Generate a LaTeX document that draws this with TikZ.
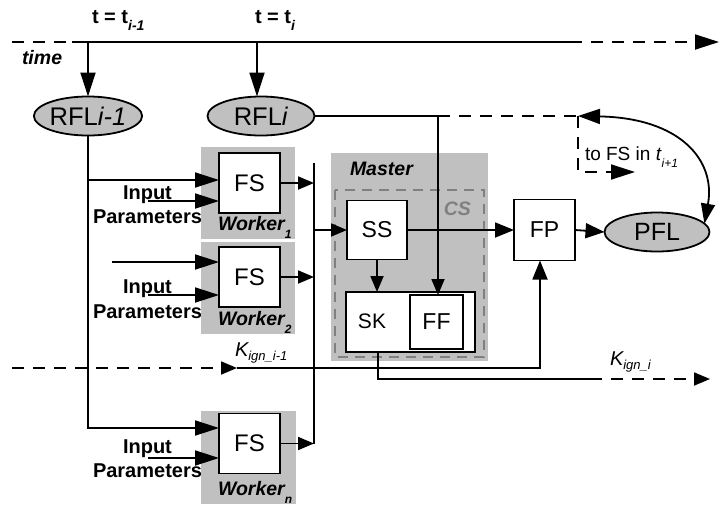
\documentclass[tikz,border=0pt]{standalone}
\usepackage{fontspec}
\setmainfont{Liberation Sans}
\usetikzlibrary{arrows.meta,shapes.geometric}
\definecolor{boxgray}{RGB}{192,192,192}
\definecolor{csgray}{RGB}{128,128,128}
\newcommand{\sbx}[3]{\raisebox{-#1pt}{\fontsize{#2}{#2}\selectfont #3}}
\begin{document}
\begin{tikzpicture}[x=1pt,y=-1pt,
  line width=1.8pt,
  every node/.style={inner sep=0pt, outer sep=0pt},
  ellnode/.style={ellipse, draw, fill=boxgray, minimum width=107pt, minimum height=39pt, font=\fontsize{25.5}{27}\selectfont},
  procbox/.style={draw, fill=white, minimum width=61pt, minimum height=60pt, font=\fontsize{23}{26}\selectfont},
  lbl/.style={font=\fontsize{20}{24}\selectfont\bfseries, anchor=base west},
  wlbl/.style={font=\fontsize{19.5}{24}\selectfont\bfseries\itshape, anchor=base west},
  bigtip/.style={-{Triangle[length=24pt,width=15pt]}},
  midtip/.style={-{Triangle[length=19pt,width=15pt]}},
  smalltip/.style={-{Triangle[length=16pt,width=13pt]}},
  dashline/.style={dash pattern=on 12pt off 9pt},
]
\useasboundingbox (0,0) rectangle (720,504);

% gray backgrounds
\fill[boxgray] (201,147) rectangle (295,239);
\fill[boxgray] (201,242) rectangle (295,334);
\fill[boxgray] (201,411) rectangle (296,504);
\fill[boxgray] (331,153) rectangle (488,361);
\draw[csgray, line width=1.3pt, dash pattern=on 10pt off 7pt] (335,190) rectangle (484,357);

% labels
\node[lbl] (t1) at (92,23) {t = t\sbx{7}{14}{\itshape i-1}};
\node[lbl] (t2) at (255,23) {t = t\sbx{7}{14}{\itshape i}};
\node[wlbl] (time) at (22,64) {time};
\node[wlbl] (master) at (350,175) {Master};
\node[wlbl, text=csgray, anchor=base east] (cs) at (471,215) {CS};

% ellipses
\node[ellnode] (rfla) at (88,116) {RFL\textit{i-1}};
\node[ellnode] (rflb) at (261,116) {RFL\textit{i}};
\node[ellnode, minimum width=105pt, font=\fontsize{25}{27}\selectfont] (pfl) at (657,232) {PFL};

% workers
\node[procbox, font=\fontsize{24}{26}\selectfont] (fs1) at (249.5,183) {FS};
\node[procbox, font=\fontsize{24}{26}\selectfont] (fs2) at (249.5,277) {FS};
\node[procbox, font=\fontsize{24}{26}\selectfont] (fsn) at (249.5,443.5) {FS};
\node[wlbl] (w1) at (218,230) {Worker\sbx{8}{12}{1}};
\node[wlbl] (w2) at (218,325) {Worker\sbx{8}{12}{2}};
\node[wlbl] (wn) at (218,495) {Worker\sbx{8}{12}{n}};

\node[lbl] (in1) at (123,199) {Input};
\node[lbl] (pa1) at (93,223) {Parameters};
\node[lbl] (in2) at (123,293) {Input};
\node[lbl] (pa2) at (93,318) {Parameters};
\node[lbl] (inn) at (123,453) {Input};
\node[lbl] (pan) at (93,477) {Parameters};

% master
\node[procbox, minimum width=60pt, minimum height=59pt] (ss) at (377,230) {SS};
\node[draw, fill=white, minimum width=129pt, minimum height=60pt, anchor=north west] (sk) at (346,292) {};
\node[font=\fontsize{21}{24}\selectfont] (sktext) at (372,321) {SK};
\node[procbox, minimum width=53pt, minimum height=54pt] (ff) at (436.5,322) {FF};
\node[procbox, minimum width=61pt, minimum height=61pt] (fp) at (544.5,230) {FP};

% time line
\coordinate (tl0) at (12,42);
\coordinate (tl1) at (72,42);
\coordinate (tl2) at (570,42);
\coordinate (tl3) at (719,42);
\draw[dashline] (tl0) -- (tl1);
\draw (tl1) -- (tl2);
\draw[dashline, bigtip] (tl2) -- (tl3);
\coordinate (ta) at (88,42);
\coordinate (tb) at (257,42);
\draw[bigtip] (ta) -- (rfla.north);
\draw[bigtip] (tb) -- (tb |- rflb.north);

% left feed
\coordinate (la) at (88,180);
\coordinate (lb) at (88,428);
\draw[bigtip] (rfla.south) -- (lb) -- (lb -| fsn.west);
\draw[bigtip] (la) -- (la -| fs1.west);
\coordinate (ib1) at (148,201);
\draw[bigtip] (ib1) -- (ib1 -| fs1.west);
\coordinate (ia2) at (112,262);
\draw[bigtip] (ia2) -- (ia2 -| fs2.west);
\coordinate (ib2) at (148,295);
\draw[bigtip] (ib2) -- (ib2 -| fs2.west);
\coordinate (ibn) at (148,458);
\draw[bigtip] (ibn) -- (ibn -| fsn.west);

% bus
\coordinate (bus1) at (314,163);
\coordinate (bus2) at (314,443.5);
\draw (bus1) -- (bus2);
\draw[smalltip] (fs1.east) -- (fs1.east -| bus1);
\draw[smalltip] (fs2.east) -- (fs2.east -| bus1);
\draw[smalltip] (fsn.east) -- (fsn.east -| bus1);
\draw[smalltip] (ss.west -| bus1) -- (ss.west);

% master internals
\draw[smalltip] (ss.south) -- (ss.south |- sk.north);
\coordinate (rj) at (438,116);
\draw (rflb.east) -- (rj);
\draw[smalltip] (rj) -- (rj |- ff.north);
\draw[midtip] (ss.east) -- (fp.west);
\draw[midtip] (fp.east) -- (pfl.west);

% feedback
\coordinate (dj) at (578,116);
\coordinate (dk) at (578,172);
\coordinate (dm) at (635,172);
\draw[dashline] (rj) -- (dj);
\draw[dashline, bigtip] (dj) -- (dk) -- (dm);
\draw[{Triangle[length=22pt,width=15pt]}-{Triangle[length=20pt,width=14pt]}] (dj) .. controls (680,118) and (716,160) .. (pfl.10);
\node[anchor=base west, font=\fontsize{19}{22}\selectfont] (tofs) at (585,160) {to FS in \textit{t}\sbx{7}{12}{\itshape i+1}};

% K ign lines
\coordinate (ka) at (12,368);
\coordinate (kb) at (237,368);
\coordinate (kc) at (540,368);
\draw[dashline, smalltip] (ka) -- (kb);
\draw[midtip] (kb) -- (kc) -- (kc |- fp.south);
\node[anchor=base west, font=\fontsize{20}{24}\selectfont\itshape] (kl1) at (235,356) {K\sbx{4}{13}{ign\_i-1}};

\coordinate (kd) at (378,379);
\coordinate (ke) at (590,379);
\coordinate (kf) at (710,379);
\draw (kd |- sk.south) -- (kd) -- (ke);
\draw[dashline, smalltip] (ke) -- (kf);
\node[anchor=base west, font=\fontsize{20}{24}\selectfont\itshape] (kl2) at (610,365) {K\sbx{4}{13}{ign\_i}};
\end{tikzpicture}
\end{document}
